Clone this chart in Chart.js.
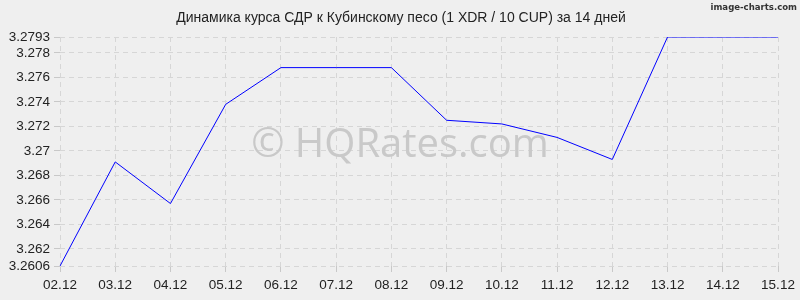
<!DOCTYPE html>
<html>
<head>
<meta charset="utf-8">
<script src="https://cdn.jsdelivr.net/npm/chart.js@4"></script>
<style>
  html, body { margin: 0; padding: 0; background: #efefef; }
  #wrap { width: 800px; height: 300px; }
</style>
</head>
<body>
<div id="wrap"><canvas id="c" width="800" height="300"></canvas></div>
<script>
const labels = ['02.12','03.12','04.12','05.12','06.12','07.12','08.12','09.12','10.12','11.12','12.12','13.12','14.12','15.12'];
const rates = [3.2606, 3.2691, 3.2657, 3.2738, 3.2768, 3.2768, 3.2768, 3.2725, 3.2722, 3.2711, 3.2693, 3.2793, 3.2793, 3.2793];
const yTicks = [3.2606, 3.262, 3.264, 3.266, 3.268, 3.27, 3.272, 3.274, 3.276, 3.278, 3.2793];
const title = 'Динамика курса СДР к Кубинскому песо (1 XDR / 10 CUP) за 14 дней';

const font = { family: '"Liberation Sans", Arial, sans-serif', size: 13.5 };
const gridStyle = { color: '#d6d6d6', lineWidth: 1, tickLength: 6, tickColor: '#c8c8c8' };
const borderStyle = { display: false, dash: [5, 4] };

// title, watermark and the corner caption
const decor = {
  id: 'decor',
  beforeDatasetsDraw(ch) {
    let ctx = ch.ctx;
    ctx.save();
    ctx.fillStyle = '#c9c9c9';
    ctx.font = '40px "Open Sans", sans-serif';
    ctx.textAlign = 'center';
    ctx.textBaseline = 'middle';
    ctx.fillText('© HQRates.com', 400, 146);
    ctx.restore();
  },
  afterDraw(ch) {
    let ctx = ch.ctx;
    ctx.save();
    ctx.fillStyle = '#222';
    ctx.font = '14px "Liberation Sans", Arial, sans-serif';
    ctx.textAlign = 'center';
    ctx.textBaseline = 'middle';
    ctx.fillText(title, 401, 18);
    ctx.fillStyle = '#333';
    ctx.font = 'bold 9.5px "DejaVu Sans Condensed", sans-serif';
    ctx.textAlign = 'right';
    ctx.fillText('image-charts.com', 797, 8);
    ctx.restore();
  }
};

new Chart(document.getElementById('c'), {
  type: 'line',
  data: {
    labels: labels,
    datasets: [{
      data: rates,
      borderColor: '#0000ff',
      borderWidth: 1,
      pointRadius: 0,
      tension: 0,
      fill: false
    }]
  },
  options: {
    responsive: false,
    animation: false,
    layout: { padding: { top: 37, right: 22, left: 0, bottom: 0 } },
    plugins: { legend: { display: false }, tooltip: { enabled: false } },
    scales: {
      x: {
        grid: gridStyle,
        border: borderStyle,
        ticks: { font: font, color: '#222', padding: 5, maxRotation: 0, autoSkip: false },
        afterFit: s => { s.height = 34; }
      },
      y: {
        min: 3.2606,
        max: 3.2793,
        grid: gridStyle,
        border: borderStyle,
        ticks: { font: font, color: '#222', padding: 4, callback: v => String(v) },
        afterBuildTicks: s => { s.ticks = yTicks.map(v => ({ value: v })); },
        afterFit: s => { s.width = 60; }
      }
    }
  },
  plugins: [decor]
});
</script>
</body>
</html>
